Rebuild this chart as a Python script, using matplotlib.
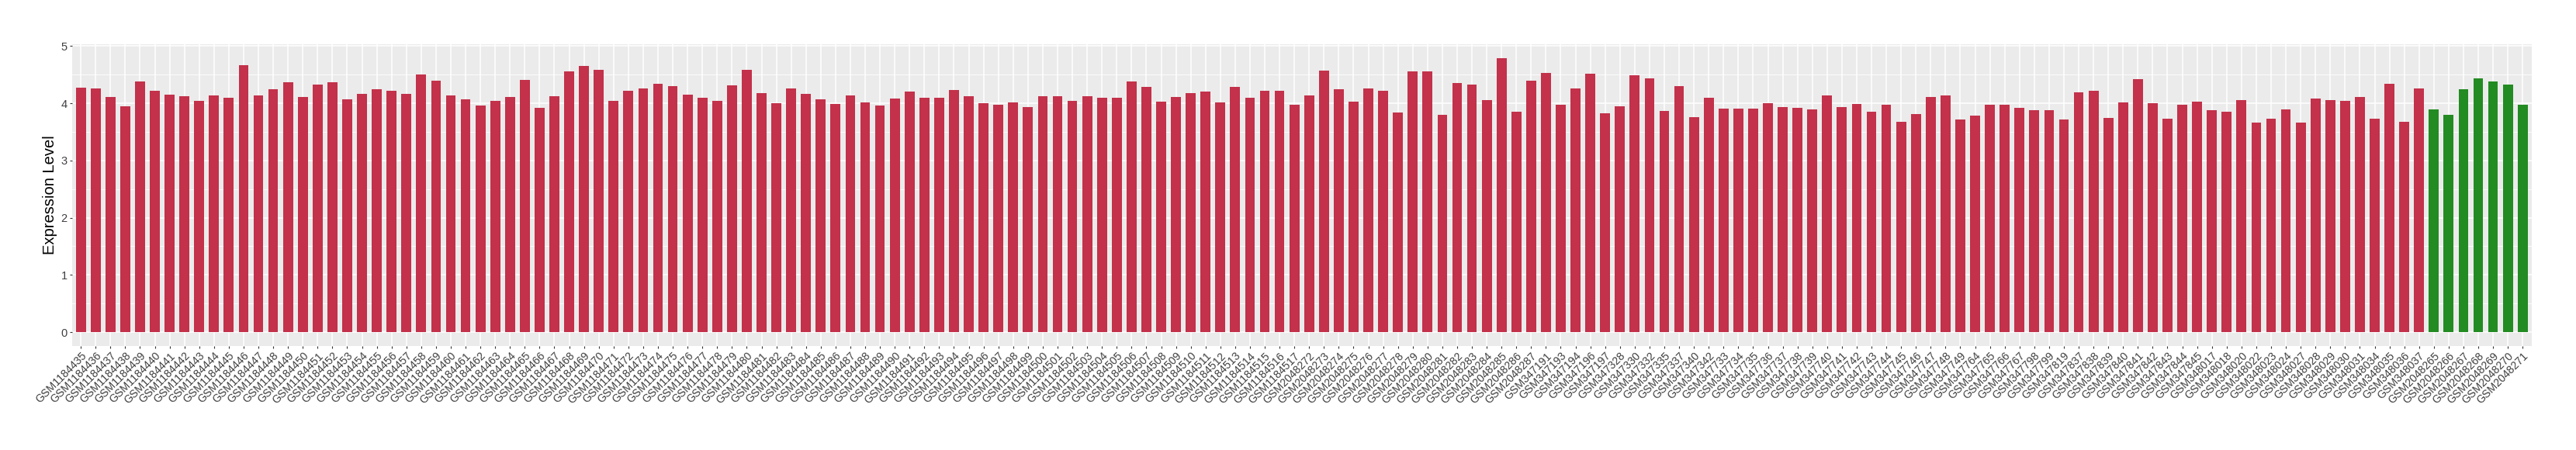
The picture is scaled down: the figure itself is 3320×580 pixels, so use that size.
import numpy as np
import matplotlib
matplotlib.use("Agg")
import matplotlib.pyplot as plt
from matplotlib.ticker import MultipleLocator

plt.rcParams['font.family'] = ['Liberation Sans', 'DejaVu Sans']

# ---------------- data ----------------
red_labels = [
    "GSM1184435", "GSM1184436", "GSM1184437", "GSM1184438", "GSM1184439", "GSM1184440",
    "GSM1184441", "GSM1184442", "GSM1184443", "GSM1184444", "GSM1184445", "GSM1184446",
    "GSM1184447", "GSM1184448", "GSM1184449", "GSM1184450", "GSM1184451", "GSM1184452",
    "GSM1184453", "GSM1184454", "GSM1184455", "GSM1184456", "GSM1184457", "GSM1184458",
    "GSM1184459", "GSM1184460", "GSM1184461", "GSM1184462", "GSM1184463", "GSM1184464",
    "GSM1184465", "GSM1184466", "GSM1184467", "GSM1184468", "GSM1184469", "GSM1184470",
    "GSM1184471", "GSM1184472", "GSM1184473", "GSM1184474", "GSM1184475", "GSM1184476",
    "GSM1184477", "GSM1184478", "GSM1184479", "GSM1184480", "GSM1184481", "GSM1184482",
    "GSM1184483", "GSM1184484", "GSM1184485", "GSM1184486", "GSM1184487", "GSM1184488",
    "GSM1184489", "GSM1184490", "GSM1184491", "GSM1184492", "GSM1184493", "GSM1184494",
    "GSM1184495", "GSM1184496", "GSM1184497", "GSM1184498", "GSM1184499", "GSM1184500",
    "GSM1184501", "GSM1184502", "GSM1184503", "GSM1184504", "GSM1184505", "GSM1184506",
    "GSM1184507", "GSM1184508", "GSM1184509", "GSM1184510", "GSM1184511", "GSM1184512",
    "GSM1184513", "GSM1184514", "GSM1184515", "GSM1184516", "GSM1184517",
    "GSM2048272", "GSM2048273", "GSM2048274", "GSM2048275", "GSM2048276", "GSM2048277",
    "GSM2048278", "GSM2048279", "GSM2048280", "GSM2048281", "GSM2048282", "GSM2048283",
    "GSM2048284", "GSM2048285", "GSM2048286", "GSM2048287",
    "GSM347191", "GSM347193", "GSM347194", "GSM347196", "GSM347197",
    "GSM347328", "GSM347330", "GSM347332", "GSM347335", "GSM347337", "GSM347340", "GSM347342",
    "GSM347733", "GSM347734", "GSM347735", "GSM347736", "GSM347737", "GSM347738",
    "GSM347739", "GSM347740", "GSM347741", "GSM347742", "GSM347743", "GSM347744",
    "GSM347745", "GSM347746", "GSM347747", "GSM347748", "GSM347749",
    "GSM347764", "GSM347765", "GSM347766", "GSM347767",
    "GSM347798", "GSM347799", "GSM347819",
    "GSM347837", "GSM347838", "GSM347839", "GSM347840", "GSM347841", "GSM347842",
    "GSM347843", "GSM347844", "GSM347845",
    "GSM348017", "GSM348018", "GSM348020", "GSM348022", "GSM348023", "GSM348024",
    "GSM348027", "GSM348028", "GSM348029", "GSM348030", "GSM348031", "GSM348034",
    "GSM348035", "GSM348036", "GSM348037",
]
red_values = [
    4.27, 4.26, 4.11, 3.95, 4.38, 4.22, 4.15, 4.12, 4.04, 4.14, 4.10, 4.67,
    4.14, 4.25, 4.37, 4.11, 4.33, 4.37, 4.07, 4.17, 4.25, 4.22, 4.17, 4.50,
    4.40, 4.14, 4.07, 3.96, 4.04, 4.11, 4.41, 3.92, 4.12, 4.56, 4.65, 4.58,
    4.04, 4.22, 4.26, 4.34, 4.30, 4.15, 4.10, 4.04, 4.31, 4.58, 4.18, 4.00,
    4.26, 4.17, 4.07, 3.99, 4.14,
    4.02, 3.96, 4.08, 4.21, 4.10, 4.10, 4.23, 4.12, 4.00, 3.98, 4.02, 3.94,
    4.12, 4.12, 4.04, 4.12, 4.10, 4.10, 4.38, 4.29, 4.03, 4.11, 4.18, 4.21,
    4.02, 4.29, 4.10, 4.22, 4.22, 3.98,
    4.14, 4.57, 4.25, 4.03, 4.26, 4.22, 3.84, 4.56, 4.56, 3.80, 4.35, 4.33,
    4.06, 4.79, 3.85, 4.40,
    4.53, 3.98, 4.26, 4.52, 3.83,
    3.95, 4.49, 4.44, 3.87, 4.30, 3.76, 4.10,
    3.91, 3.91, 3.91, 4.00, 3.94, 3.92, 3.90, 4.14, 3.94, 3.99, 3.85, 3.98,
    3.68, 3.81, 4.11, 4.14, 3.72,
    3.79, 3.98, 3.98, 3.92,
    3.88, 3.88, 3.72,
    4.19, 4.22, 3.75, 4.02, 4.42, 4.00, 3.73, 3.98, 4.03,
    3.88, 3.86, 4.06, 3.66, 3.73, 3.89, 3.66, 4.08, 4.06, 4.05, 4.11, 3.73,
    4.34, 3.68, 4.26,
]
green_labels = ["GSM2048265", "GSM2048266", "GSM2048267", "GSM2048268",
                "GSM2048269", "GSM2048270", "GSM2048271"]
green_values = [3.89, 3.80, 4.24, 4.43, 4.38, 4.33, 3.97]

RED = "#C3314A"
GREEN = "#228B22"

# ---------------- plot ----------------
labels = red_labels + green_labels
values = red_values + green_values
colors = [RED] * len(red_values) + [GREEN] * len(green_values)
x = np.arange(len(labels))

W, H = 3320, 580
fig = plt.figure(figsize=(W / 100, H / 100), dpi=100)
fig.patch.set_facecolor("white")
ax = fig.add_axes([92.7 / W, 1 - 445.7 / H, (3262.7 - 92.7) / W, (445.7 - 57.3) / H])
ax.set_facecolor("#EBEBEB")

ax.bar(x, values, width=0.67, color=colors, zorder=2, linewidth=0)

ax.set_xlim(-0.6, len(labels) - 1 + 0.6)
vmax = max(values)
ax.set_ylim(-0.05 * vmax, 1.05 * vmax)

ax.set_yticks([0, 1, 2, 3, 4, 5])
ax.yaxis.set_minor_locator(MultipleLocator(0.5))
ax.set_axisbelow(True)
ax.grid(which="major", color="white", linewidth=1.1, zorder=0)
ax.grid(which="minor", axis="y", color="white", linewidth=0.6, zorder=0)
for s in ax.spines.values():
    s.set_visible(False)

ax.set_xticks(x)
ax.set_xticklabels(labels, rotation=45, ha="right", va="top",
                   rotation_mode="anchor", fontsize=10.2, color="#3F3F3F")
ax.tick_params(axis="both", which="major", length=2.4, width=0.8,
               color="#333333", pad=1.8)
ax.tick_params(axis="y", labelsize=10.5, labelcolor="#3F3F3F")
ax.tick_params(which="minor", length=0)

ax.set_ylabel("Expression Level", fontsize=14.5, color="black")
ax.yaxis.set_label_coords((74 - 92.7) / (3262.7 - 92.7), 0.5)

fig.savefig("out.png", dpi=100)
